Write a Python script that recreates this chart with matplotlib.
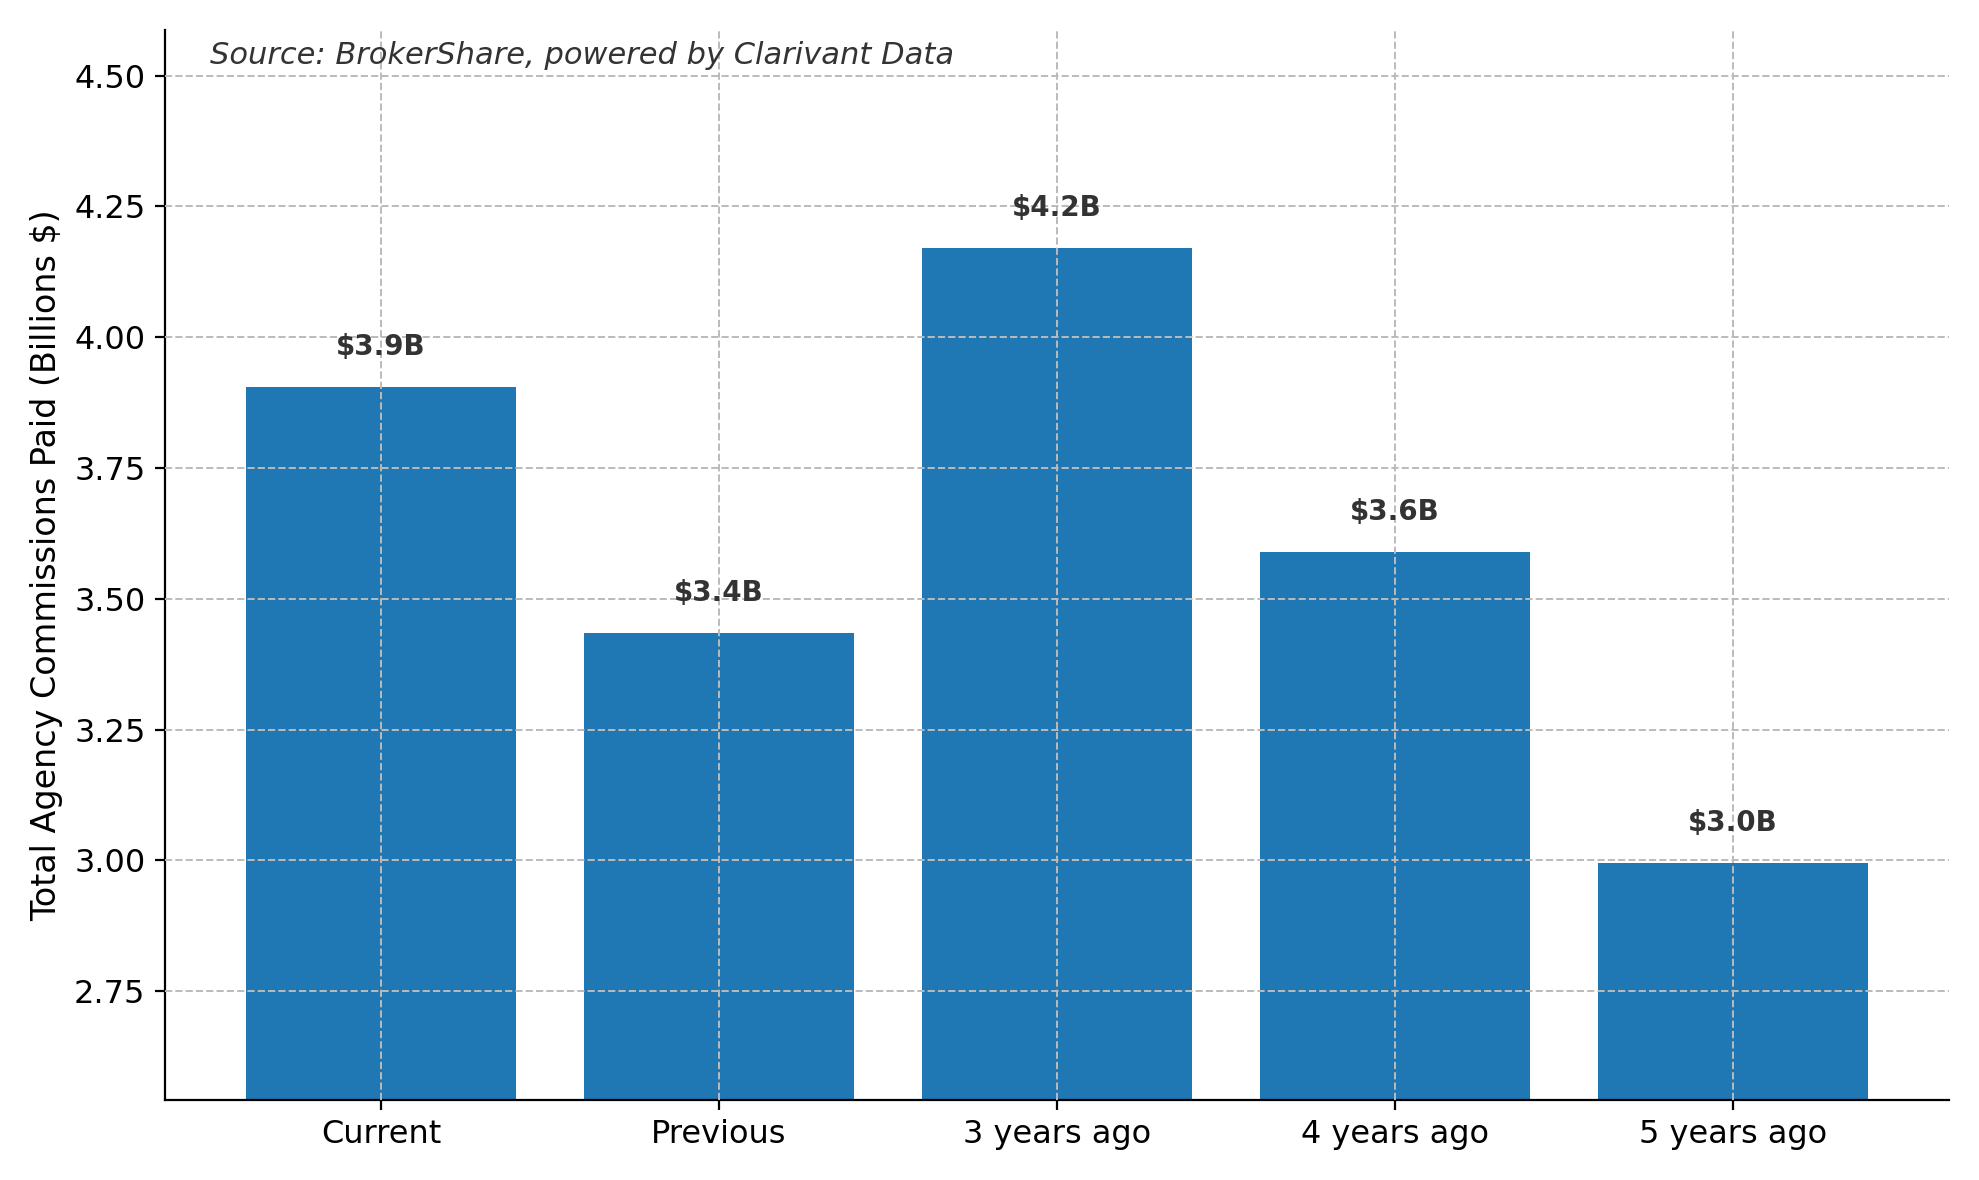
import matplotlib
matplotlib.use("Agg")
import matplotlib.pyplot as plt

periods = ["Current", "Previous", "3 years ago", "4 years ago", "5 years ago"]
commissions = [3.905, 3.435, 4.17, 3.59, 2.995]
value_labels = ["$3.9B", "$3.4B", "$4.2B", "$3.6B", "$3.0B"]

fig, ax = plt.subplots(figsize=(9.895, 5.9), dpi=200)
ax.bar(periods, commissions, color="#1f77b4", width=0.8, zorder=1)
for i, (v, lab) in enumerate(zip(commissions, value_labels)):
    ax.text(i, v + 0.05, lab, ha="center", va="bottom", fontsize=10,
            fontweight="bold", color="#333333")

ax.set_ylim(2.543, 4.587)
ax.set_yticks([2.75, 3.00, 3.25, 3.50, 3.75, 4.00, 4.25, 4.50])
ax.set_ylabel("Total Agency Commissions Paid (Billions $)", fontsize=12)
ax.tick_params(labelsize=11.5)
ax.grid(True, linestyle="--", color="#bbbbbb", linewidth=0.7, zorder=2)
ax.set_axisbelow(False)
ax.spines["top"].set_visible(False)
ax.spines["right"].set_visible(False)
ax.text(0.025, 0.99, "Source: BrokerShare, powered by Clarivant Data",
        transform=ax.transAxes, ha="left", va="top", fontsize=11,
        style="italic", color="#333333")

plt.tight_layout()
plt.savefig("out.png")
